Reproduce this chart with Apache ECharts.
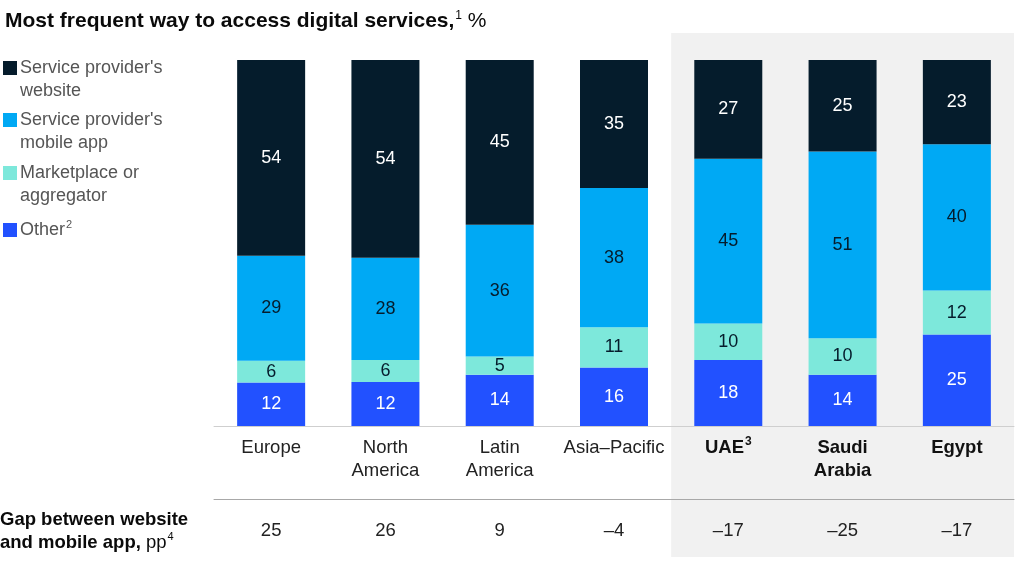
<!DOCTYPE html>
<html>
<head>
<meta charset="utf-8">
<script src="https://cdn.jsdelivr.net/npm/echarts@6/dist/echarts.min.js"></script>
<style>
html,body{margin:0;padding:0;background:#fff;}
#chart{width:1018px;height:565px;}
</style>
</head>
<body>
<div id="chart"></div>
<script>
// ---- data ----
const categories = ['Europe', 'North America', 'Latin America', 'Asia–Pacific', 'UAE', 'Saudi Arabia', 'Egypt'];
const website = [54, 54, 45, 35, 27, 25, 23];
const mobileApp = [29, 28, 36, 38, 45, 51, 40];
const marketplace = [6, 6, 5, 11, 10, 10, 12];
const other = [12, 12, 14, 16, 18, 14, 25];
const gap = ['25', '26', '9', '–4', '–17', '–25', '–17'];
const highlighted = ['UAE', 'Saudi Arabia', 'Egypt'];
const seriesNames = ["Service provider's\nwebsite", "Service provider's\nmobile app", 'Marketplace or\naggregator', 'Other'];

// ---- styles ----
const FONT = '"Liberation Sans", Arial, Helvetica, sans-serif';
const colors = {website: '#051C2C', mobile: '#00A9F4', market: '#7DE8DB', other: '#2251FF'};

const totals = categories.map((c, i) => website[i] + mobileApp[i] + marketplace[i] + other[i]);
function norm(arr) { return arr.map((v, i) => ({value: v / totals[i] * 100, raw: v})); }

function mkSeries(name, arr, color, labelColor) {
  return {
    name: name, type: 'bar', stack: 'total', barWidth: 68,
    data: norm(arr),
    itemStyle: {color: color},
    label: {
      show: true, position: 'inside', color: labelColor,
      fontFamily: FONT, fontSize: 18,
      formatter: p => String(p.data.raw)
    },
    emphasis: {disabled: true}
  };
}

function catLabel(v) {
  const bold = highlighted.indexOf(v) >= 0;
  const st = bold ? 'b' : 'n';
  if (v === 'UAE') return '{b|UAE}{sup|3}';
  const parts = (v === 'Asia–Pacific') ? [v] : v.split(' ');
  return parts.map(p => '{' + st + '|' + p + '}').join('\n');
}

const chart = echarts.init(document.getElementById('chart'), null, {renderer: 'canvas'});
const option = {
  animation: false,
  backgroundColor: '#ffffff',
  title: {
    left: 0, top: 5,
    text: '{t|Most frequent way to access digital services,}{sup|1}{r| %}',
    textStyle: {
      fontWeight: 'normal',
      rich: {
        t: {fontFamily: FONT, fontWeight: 'bold', fontSize: 21, color: '#0a0a0a'},
        sup: {fontFamily: FONT, fontWeight: 'normal', fontSize: 12, color: '#0a0a0a', verticalAlign: 'top', padding: [0, 0, 10, 1]},
        r: {fontFamily: FONT, fontWeight: 'normal', fontSize: 21, color: '#0a0a0a'}
      }
    }
  },
  grid: {left: 214, right: 4, top: 60, bottom: 139, containLabel: false},
  xAxis: [
    {
      type: 'category', data: categories, position: 'bottom',
      axisLine: {lineStyle: {color: '#cfcfcf', width: 1}},
      axisTick: {show: false},
      axisLabel: {
        interval: 0, margin: 10, formatter: catLabel,
        rich: {
          n: {fontFamily: FONT, fontSize: 18.5, color: '#222', lineHeight: 23},
          b: {fontFamily: FONT, fontSize: 18.5, fontWeight: 'bold', color: '#111', lineHeight: 23},
          sup: {fontFamily: FONT, fontSize: 12, fontWeight: 'bold', color: '#111', verticalAlign: 'top', lineHeight: 23, padding: [0, 0, 8, 1]}
        }
      },
      z: 5
    },
    {
      type: 'category', data: categories, position: 'bottom', offset: 73,
      axisLine: {lineStyle: {color: '#a8a8a8', width: 1}},
      axisTick: {show: false},
      axisLabel: {
        interval: 0, margin: 22,
        formatter: (v, i) => gap[i],
        fontFamily: FONT, fontSize: 18.5, color: '#222'
      },
      z: 5
    }
  ],
  yAxis: {type: 'value', min: 0, max: 100, show: false},
  series: [
    mkSeries(seriesNames[3], other, colors.other, '#ffffff'),
    mkSeries(seriesNames[2], marketplace, colors.market, '#051C2C'),
    mkSeries(seriesNames[1], mobileApp, colors.mobile, '#051C2C'),
    mkSeries(seriesNames[0], website, colors.website, '#ffffff')
  ]
};
chart.setOption(option);

// ---- highlight panel, legend, and gap row label ----
const bandHalf = (chart.convertToPixel({xAxisIndex: 0}, categories[1]) - chart.convertToPixel({xAxisIndex: 0}, categories[0])) / 2;
const panelLeft = chart.convertToPixel({xAxisIndex: 0}, highlighted[0]) - bandHalf;
const panelRight = chart.convertToPixel({xAxisIndex: 0}, highlighted[highlighted.length - 1]) + bandHalf;

const legendColors = [colors.website, colors.mobile, colors.market, colors.other];
const legendTops = [57, 109, 162, 219];
const legendEls = [];
seriesNames.forEach((name, i) => {
  legendEls.push({type: 'rect', shape: {x: 3, y: legendTops[i] + 4, width: 14, height: 14}, style: {fill: legendColors[i]}});
  const txt = (i === 3) ? '{n|Other}{sup|2}' : name.split('\n').map(s => '{n|' + s + '}').join('\n');
  legendEls.push({
    type: 'text', x: 20, y: legendTops[i],
    style: {
      text: txt,
      rich: {
        n: {fontFamily: FONT, fontSize: 18, fill: '#555', lineHeight: 23},
        sup: {fontFamily: FONT, fontSize: 11, fill: '#555', verticalAlign: 'top', lineHeight: 23, padding: [0, 0, 8, 1]}
      }
    }
  });
});

chart.setOption({
  graphic: [
    {type: 'rect', z: -10, silent: true, shape: {x: panelLeft, y: 33, width: panelRight - panelLeft, height: 524}, style: {fill: '#f1f1f1'}},
    ...legendEls,
    {
      type: 'text', x: 0, y: 508,
      style: {
        text: '{b|Gap between website}\n{b|and mobile app,}{n| pp}{sup|4}',
        rich: {
          b: {fontFamily: FONT, fontSize: 18.5, fontWeight: 'bold', fill: '#0a0a0a', lineHeight: 23},
          n: {fontFamily: FONT, fontSize: 18.5, fill: '#0a0a0a', lineHeight: 23},
          sup: {fontFamily: FONT, fontSize: 11, fill: '#0a0a0a', verticalAlign: 'top', lineHeight: 23, padding: [0, 0, 8, 1]}
        }
      }
    }
  ]
});
</script>
</body>
</html>
